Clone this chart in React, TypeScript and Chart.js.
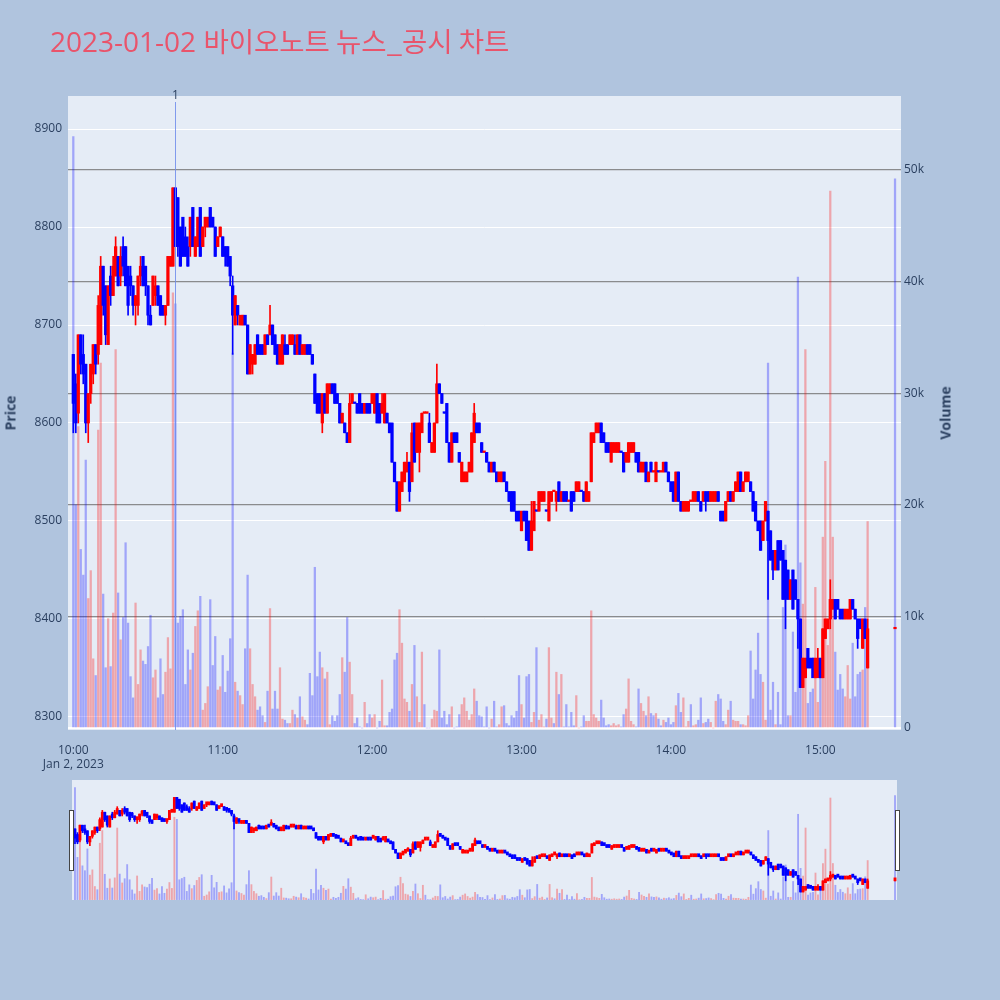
import React, { useEffect, useRef } from 'react';
import { Chart, registerables } from 'chart.js';

Chart.register(...registerables);

// ---------- text ----------
const titleDate = '2023-01-02';
const titleText = '바이오노트 뉴스_공시 차트';
const priceTitle = 'Price';
const volumeTitle = 'Volume';
const dateLabel = 'Jan 2, 2023';

// ---------- axes ----------
const startTime = '10:00';
const xTickTimes = ['10:00', '11:00', '12:00', '13:00', '14:00', '15:00'];
const priceTicks = [8300, 8400, 8500, 8600, 8700, 8800, 8900];
const volumeTicks = [0, 10, 20, 30, 40, 50];
const volumeTickLabels = ['0', '10k', '20k', '30k', '40k', '50k'];

// ---------- news markers ----------
const newsTimes = ['10:41'];
const newsLabels = ['1'];

// ---------- 1-minute candles from 10:00 (one value per minute) ----------
const open = [
  8670, 8640, 8610, 8690, 8670, 8660, 8600, 8630, 8650, 8680,
  8670, 8680, 8760, 8740, 8680, 8750, 8730, 8750, 8770, 8750,
  8780, 8780, 8760, 8750, 8740, 8720, 8720, 8750, 8770, 8760,
  8740, 8710, 8720, 8730, 8740, 8730, 8720, 8710, 8720, 8760,
  8760, 8840, 8830, 8800, 8810, 8790, 8780, 8780, 8820, 8770,
  8780, 8820, 8780, 8800, 8800, 8820, 8810, 8800, 8780, 8790,
  8790, 8780, 8780, 8770, 8740, 8700, 8720, 8700, 8700, 8710,
  8700, 8650, 8660, 8660, 8690, 8680, 8680, 8670, 8690, 8690,
  8700, 8690, 8680, 8660, 8660, 8680, 8680, 8680, 8680, 8680,
  8670, 8690, 8670, 8670, 8680, 8680, 8670, 8650, 8630, 8630,
  8600, 8630, 8610, 8630, 8640, 8640, 8630, 8620, 8600, 8600,
  8590, 8580, 8620, 8620, 8620, 8630, 8620, 8610, 8620, 8620,
  8620, 8610, 8630, 8620, 8610, 8600, 8610, 8600, 8600, 8560,
  8540, 8510, 8530, 8540, 8550, 8560, 8540, 8600, 8570, 8570,
  8590, 8610, 8610, 8600, 8570, 8570, 8600, 8640, 8630, 8610,
  8620, 8580, 8560, 8590, 8590, 8570, 8540, 8540, 8540, 8550,
  8550, 8580, 8600, 8600, 8580, 8570, 8570, 8560, 8550, 8560,
  8550, 8540, 8540, 8550, 8540, 8530, 8530, 8530, 8510, 8510,
  8490, 8510, 8510, 8500, 8470, 8490, 8510, 8510, 8520, 8520,
  8510, 8500, 8520, 8530, 8520, 8540, 8520, 8530, 8530, 8520,
  8530, 8530, 8530, 8530, 8530, 8530, 8520, 8520, 8540, 8580,
  8590, 8590, 8600, 8590, 8580, 8580, 8560, 8570, 8570, 8570,
  8570, 8570, 8560, 8560, 8570, 8570, 8570, 8570, 8550, 8550,
  8560, 8540, 8560, 8550, 8540, 8550, 8550, 8550, 8560, 8550,
  8540, 8540, 8520, 8550, 8520, 8510, 8510, 8510, 8520, 8520,
  8520, 8530, 8520, 8520, 8530, 8530, 8520, 8520, 8520, 8530,
  8510, 8510, 8500, 8520, 8530, 8520, 8530, 8530, 8550, 8530,
  8540, 8540, 8540, 8530, 8520, 8500, 8500, 8480, 8500, 8510,
  8490, 8470, 8450, 8480, 8480, 8470, 8460, 8450, 8420, 8450,
  8440, 8420, 8400, 8330, 8340, 8370, 8360, 8360, 8340, 8340,
  8360, 8340, 8380, 8390, 8400, 8410, 8420, 8420, 8410, 8410,
  8400, 8400, 8400, 8420, 8410, 8400, 8400, 8370, 8400, 8350,
];

const high = [
  8670, 8650, 8690, 8690, 8690, 8660, 8630, 8660, 8680, 8680,
  8730, 8770, 8760, 8740, 8740, 8760, 8770, 8790, 8770, 8780,
  8790, 8780, 8760, 8760, 8740, 8730, 8750, 8770, 8770, 8760,
  8740, 8720, 8750, 8750, 8740, 8730, 8720, 8720, 8770, 8770,
  8840, 8840, 8830, 8800, 8810, 8800, 8790, 8810, 8820, 8790,
  8810, 8820, 8800, 8810, 8810, 8820, 8810, 8800, 8790, 8800,
  8790, 8780, 8780, 8770, 8750, 8730, 8720, 8710, 8710, 8710,
  8700, 8680, 8670, 8680, 8690, 8680, 8680, 8690, 8690, 8720,
  8700, 8690, 8680, 8680, 8690, 8690, 8680, 8690, 8690, 8690,
  8690, 8690, 8680, 8680, 8680, 8680, 8670, 8650, 8630, 8630,
  8630, 8630, 8640, 8640, 8640, 8640, 8630, 8620, 8610, 8600,
  8590, 8630, 8630, 8620, 8620, 8630, 8620, 8620, 8620, 8620,
  8630, 8630, 8630, 8620, 8630, 8630, 8610, 8600, 8600, 8560,
  8540, 8540, 8550, 8560, 8570, 8560, 8600, 8600, 8600, 8600,
  8610, 8610, 8610, 8610, 8580, 8600, 8660, 8640, 8630, 8610,
  8620, 8580, 8590, 8590, 8590, 8570, 8560, 8550, 8550, 8560,
  8590, 8620, 8600, 8600, 8580, 8570, 8570, 8560, 8560, 8560,
  8550, 8550, 8550, 8550, 8540, 8530, 8530, 8530, 8510, 8510,
  8510, 8510, 8510, 8500, 8520, 8520, 8510, 8530, 8530, 8530,
  8510, 8530, 8530, 8530, 8530, 8540, 8530, 8530, 8530, 8520,
  8530, 8530, 8540, 8540, 8530, 8530, 8540, 8530, 8590, 8590,
  8600, 8600, 8600, 8590, 8580, 8580, 8580, 8580, 8580, 8580,
  8570, 8570, 8570, 8580, 8580, 8580, 8570, 8570, 8560, 8560,
  8560, 8550, 8560, 8550, 8560, 8550, 8550, 8560, 8560, 8550,
  8540, 8540, 8550, 8550, 8520, 8520, 8520, 8520, 8520, 8530,
  8530, 8530, 8520, 8530, 8530, 8530, 8530, 8530, 8530, 8530,
  8510, 8510, 8520, 8530, 8530, 8530, 8540, 8550, 8550, 8540,
  8550, 8550, 8540, 8530, 8520, 8500, 8500, 8500, 8520, 8510,
  8490, 8470, 8470, 8480, 8480, 8470, 8460, 8450, 8440, 8450,
  8440, 8420, 8400, 8360, 8360, 8370, 8360, 8360, 8360, 8370,
  8360, 8390, 8400, 8400, 8440, 8420, 8420, 8420, 8410, 8410,
  8410, 8410, 8420, 8420, 8410, 8400, 8400, 8400, 8400, 8400,
];

const low = [
  8590, 8590, 8600, 8650, 8640, 8590, 8580, 8620, 8640, 8650,
  8660, 8680, 8710, 8680, 8680, 8720, 8730, 8750, 8740, 8740,
  8750, 8740, 8710, 8730, 8710, 8700, 8710, 8740, 8740, 8730,
  8700, 8700, 8720, 8720, 8720, 8710, 8710, 8700, 8720, 8760,
  8760, 8780, 8770, 8760, 8770, 8770, 8760, 8770, 8780, 8770,
  8780, 8770, 8780, 8790, 8800, 8800, 8800, 8770, 8780, 8790,
  8770, 8760, 8760, 8740, 8670, 8700, 8700, 8700, 8700, 8700,
  8650, 8650, 8650, 8660, 8670, 8670, 8670, 8670, 8680, 8690,
  8680, 8670, 8660, 8660, 8660, 8670, 8670, 8680, 8680, 8670,
  8670, 8670, 8670, 8670, 8670, 8670, 8660, 8620, 8610, 8610,
  8590, 8610, 8610, 8630, 8630, 8620, 8620, 8600, 8600, 8590,
  8580, 8580, 8620, 8620, 8610, 8610, 8610, 8610, 8610, 8610,
  8620, 8610, 8600, 8600, 8610, 8600, 8600, 8590, 8560, 8540,
  8510, 8510, 8530, 8540, 8550, 8520, 8540, 8560, 8570, 8550,
  8590, 8610, 8610, 8580, 8570, 8570, 8600, 8630, 8620, 8610,
  8580, 8560, 8560, 8580, 8580, 8560, 8540, 8540, 8540, 8550,
  8550, 8580, 8590, 8590, 8570, 8570, 8560, 8550, 8550, 8550,
  8540, 8540, 8540, 8540, 8530, 8520, 8510, 8510, 8500, 8500,
  8490, 8500, 8480, 8470, 8470, 8490, 8510, 8510, 8520, 8520,
  8510, 8500, 8520, 8530, 8510, 8520, 8520, 8520, 8520, 8520,
  8510, 8520, 8530, 8530, 8530, 8520, 8520, 8520, 8540, 8580,
  8590, 8590, 8580, 8580, 8570, 8570, 8560, 8570, 8570, 8570,
  8570, 8550, 8560, 8560, 8570, 8570, 8560, 8550, 8550, 8550,
  8540, 8540, 8550, 8550, 8540, 8550, 8550, 8550, 8550, 8540,
  8530, 8520, 8520, 8520, 8510, 8510, 8510, 8510, 8520, 8520,
  8520, 8520, 8510, 8520, 8510, 8520, 8520, 8520, 8520, 8520,
  8500, 8500, 8500, 8520, 8520, 8520, 8530, 8530, 8530, 8530,
  8540, 8540, 8530, 8510, 8500, 8490, 8470, 8480, 8500, 8420,
  8460, 8440, 8450, 8450, 8460, 8420, 8390, 8420, 8420, 8410,
  8420, 8370, 8330, 8330, 8340, 8350, 8350, 8340, 8340, 8340,
  8340, 8340, 8380, 8390, 8390, 8410, 8400, 8410, 8400, 8400,
  8400, 8400, 8400, 8410, 8400, 8370, 8390, 8370, 8380, 8350,
];

const close = [
  8620, 8600, 8690, 8660, 8650, 8600, 8630, 8660, 8680, 8660,
  8720, 8760, 8720, 8690, 8740, 8730, 8760, 8780, 8740, 8770,
  8760, 8740, 8720, 8740, 8720, 8730, 8750, 8760, 8740, 8740,
  8710, 8700, 8750, 8740, 8720, 8710, 8710, 8720, 8770, 8770,
  8840, 8780, 8780, 8760, 8770, 8770, 8760, 8810, 8780, 8790,
  8810, 8770, 8800, 8810, 8810, 8800, 8800, 8770, 8790, 8800,
  8770, 8770, 8760, 8750, 8710, 8730, 8710, 8710, 8710, 8700,
  8650, 8680, 8670, 8680, 8670, 8670, 8670, 8690, 8680, 8700,
  8680, 8670, 8660, 8680, 8690, 8670, 8670, 8690, 8690, 8670,
  8690, 8670, 8680, 8680, 8670, 8670, 8660, 8620, 8610, 8610,
  8630, 8610, 8640, 8640, 8630, 8620, 8620, 8600, 8610, 8590,
  8580, 8620, 8630, 8620, 8610, 8610, 8610, 8620, 8610, 8610,
  8630, 8630, 8600, 8600, 8620, 8630, 8600, 8590, 8560, 8540,
  8510, 8540, 8550, 8560, 8560, 8530, 8590, 8560, 8600, 8600,
  8610, 8610, 8610, 8580, 8580, 8600, 8640, 8630, 8620, 8610,
  8580, 8560, 8590, 8580, 8580, 8560, 8560, 8550, 8550, 8560,
  8590, 8610, 8590, 8590, 8570, 8570, 8560, 8550, 8560, 8550,
  8540, 8550, 8550, 8540, 8530, 8520, 8510, 8510, 8500, 8500,
  8510, 8500, 8480, 8470, 8500, 8520, 8510, 8530, 8530, 8530,
  8510, 8530, 8530, 8530, 8530, 8520, 8530, 8520, 8520, 8520,
  8510, 8520, 8540, 8540, 8530, 8520, 8540, 8530, 8590, 8590,
  8600, 8600, 8580, 8580, 8570, 8570, 8580, 8580, 8580, 8580,
  8570, 8550, 8570, 8580, 8580, 8580, 8560, 8550, 8560, 8560,
  8540, 8550, 8550, 8550, 8560, 8550, 8550, 8560, 8550, 8540,
  8530, 8520, 8550, 8520, 8510, 8520, 8520, 8520, 8520, 8530,
  8530, 8520, 8510, 8530, 8520, 8520, 8530, 8530, 8530, 8520,
  8500, 8500, 8520, 8530, 8520, 8530, 8540, 8550, 8530, 8540,
  8550, 8550, 8530, 8510, 8500, 8490, 8470, 8500, 8520, 8480,
  8460, 8450, 8470, 8450, 8460, 8420, 8420, 8420, 8440, 8410,
  8420, 8400, 8330, 8360, 8360, 8350, 8350, 8340, 8360, 8360,
  8340, 8390, 8400, 8400, 8420, 8420, 8400, 8410, 8400, 8400,
  8410, 8410, 8420, 8410, 8400, 8380, 8390, 8400, 8380, 8390,
];

// volume per minute, in thousands of shares
const volumeK = [
  53, 20, 27, 16, 13.7, 24, 11.6, 14.1, 6.2, 4.7,
  26.7, 32.7, 12, 5.4, 9.8, 5.5, 10.3, 33.9, 12.1, 7.9,
  9.9, 16.6, 9.4, 4.6, 2.7, 11.2, 3.9, 7, 6, 5.7,
  7.3, 10.1, 4.5, 5.2, 2.7, 6.2, 3, 5, 8.1, 5.3,
  39, 38, 9.4, 10, 10.6, 3.9, 7, 5.2, 6.7, 9.1,
  10.5, 11.8, 1.6, 2.2, 3.7, 11.5, 5.6, 8.2, 3.4, 3.7,
  6.5, 3.2, 5.1, 8, 33.6, 4.1, 3.3, 2.9, 2.1, 7.1,
  13.7, 7.1, 3.9, 2.8, 1.6, 1.9, 1.1, 0.5, 3.3, 10.7,
  1.7, 3.3, 1.7, 5.4, 0.8, 0.7, 0.4, 0.4, 1.6, 1.2,
  0.9, 2.8, 1, 0.7, 0.3, 4.9, 2.9, 14.4, 4.6, 6.8,
  5.4, 4.4, 5, 0.3, 1.1, 0.6, 1.1, 3, 6.3, 5,
  9.9, 5.9, 3, 0.4, 0.9, 0.1, 0, 2.3, 0.4, 1.2,
  0.9, 1.2, 0, 0.6, 4.3, 0.2, 0.2, 1.4, 1.7, 6.1,
  6.7, 10.6, 7.6, 2.6, 2.3, 1.5, 3.9, 7.4, 2.8, 0.5,
  6.8, 2.1, 0, 0, 0.8, 1.6, 1.5, 7, 0.9, 1.5,
  0.3, 1.2, 1.9, 0, 0.1, 1.2, 2.1, 2.7, 1.5, 0.7,
  1.2, 3.5, 2.4, 1.1, 1, 0.1, 1.9, 0, 0.8, 2.4,
  0.1, 0.3, 1.9, 2, 0.4, 0.2, 1.1, 0.9, 1.5, 4.7,
  2.1, 0.9, 4.6, 4.8, 0.5, 1.4, 7.2, 0.7, 1.2, 0.1,
  0.8, 7.2, 0.9, 0.4, 5, 3, 4.8, 0.1, 2.1, 0.1,
  1.4, 0.2, 2.9, 0, 0.1, 1.1, 0.6, 0.6, 10.5, 1.2,
  0.9, 0.6, 2.5, 0.9, 0.2, 0.3, 0.2, 0.4, 0.2, 0.3,
  0.1, 1.2, 1.7, 4.4, 0.6, 0.3, 0.1, 3.5, 2.2, 1.5,
  1.1, 2.8, 1.3, 1.1, 1.3, 0.8, 0.2, 0.7, 0.5, 0.9,
  0.3, 0.5, 2, 3.1, 1.4, 2.7, 0.1, 0.6, 2.1, 0.2,
  0.3, 0.7, 2.7, 0.4, 0.5, 0.8, 0.5, 0, 2.4, 3,
  2.6, 0.6, 0.3, 1.6, 2.4, 0.7, 0.6, 0.6, 0.3, 0.3,
  0.2, 1.1, 6.9, 2.6, 5.2, 8.5, 4.8, 4.1, 0.7, 32.7,
  1.6, 4.1, 0.3, 3.2, 0.3, 10.8, 16.4, 1.1, 1.1, 8.6,
  3.2, 40.4, 14.8, 11.1, 33.9, 2.2, 3.2, 3.5, 12.6, 2.3,
  5.6, 17.1, 23.9, 7.4, 48.1, 17.1, 6.8, 3.4, 4.8, 3.5,
  2.8, 5.6, 2.6, 7.6, 2.8, 4.8, 5, 5.2, 10.8, 18.5,
];

// closing single-price auction
const auctionTime = '15:30';
const auctionPrice = 8390;
const auctionVolumeK = 49.2;

// ---------- styling ----------
const UP = '#ff0000';
const DOWN = '#0000ff';
const UP_VOL = 'rgba(255,0,0,0.3)';
const DOWN_VOL = 'rgba(0,0,255,0.3)';
const PLOT_BG = '#e5ecf6';
const PAGE_BG = '#b0c4de';
const TEXT = '#2a3f5f';
const FONT = "'Open Sans', 'Noto Sans', sans-serif";

const toMin = (t: string) => {
  const [h, m] = t.split(':').map(Number);
  const [h0, m0] = startTime.split(':').map(Number);
  return (h - h0) * 60 + (m - m0);
};

type Pt = { x: number; o: number; h: number; l: number; c: number; v: number; inc: boolean; volUp: boolean };

function buildSeries(): Pt[] {
  const pts: Pt[] = [];
  let prev = open[0];
  const push = (x: number, o: number, h: number, l: number, c: number, v: number) => {
    const inc = c > o || (c === o && c >= prev);
    pts.push({ x, o, h, l, c, v, inc, volUp: c > o });
    prev = c;
  };
  for (let i = 0; i < open.length; i++) push(i, open[i], high[i], low[i], close[i], volumeK[i]);
  push(toMin(auctionTime), auctionPrice, auctionPrice, auctionPrice, auctionPrice, auctionVolumeK);
  return pts;
}

function makeDatasets(s: Pt[], body: number, wick: number, vol: number, minBody: number) {
  return [
    {
      type: 'bar', label: 'body', yAxisID: 'y', order: 1, grouped: false,
      data: s.map((p) => ({ x: p.x, y: [p.o, p.c] })),
      backgroundColor: s.map((p) => (p.inc ? UP : DOWN)),
      barThickness: body, minBarLength: minBody, borderWidth: 0,
    },
    {
      type: 'bar', label: 'wick', yAxisID: 'y', order: 2, grouped: false,
      data: s.map((p) => ({ x: p.x, y: [p.l, p.h] })),
      backgroundColor: s.map((p) => (p.inc ? UP : DOWN)),
      barThickness: wick, borderWidth: 0,
    },
    {
      type: 'bar', label: 'volume', yAxisID: 'yv', order: 3, grouped: false,
      data: s.map((p) => ({ x: p.x, y: p.v })),
      backgroundColor: s.map((p) => (p.volUp ? UP_VOL : DOWN_VOL)),
      barThickness: vol, borderWidth: 0,
    },
  ];
}

const bgPlugin = {
  id: 'plotBg',
  beforeDraw(chart: any) {
    const { ctx, chartArea: a } = chart;
    ctx.save();
    ctx.fillStyle = PLOT_BG;
    ctx.fillRect(a.left, a.top, a.right - a.left, a.bottom - a.top);
    ctx.restore();
  },
};

const newsPlugin = {
  id: 'news',
  afterDatasetsDraw(chart: any) {
    const { ctx, chartArea: a, scales } = chart;
    ctx.save();
    newsTimes.forEach((t, i) => {
      const x = Math.round(scales.x.getPixelForValue(toMin(t))) + 0.5;
      ctx.strokeStyle = 'rgba(110,140,235,0.85)';
      ctx.lineWidth = 1;
      ctx.beginPath();
      ctx.moveTo(x, a.top + 6);
      ctx.lineTo(x, a.bottom);
      ctx.stroke();
      ctx.fillStyle = TEXT;
      ctx.font = `12px ${FONT}`;
      ctx.textAlign = 'center';
      ctx.textBaseline = 'middle';
      ctx.fillText(newsLabels[i], x, a.top);
    });
    ctx.restore();
  },
};

const tickFont = { family: FONT, size: 12 };

export default function App() {
  const mainRef = useRef<HTMLCanvasElement>(null);
  const sliderRef = useRef<HTMLCanvasElement>(null);

  useEffect(() => {
    const series = buildSeries();

    const main = new Chart(mainRef.current as HTMLCanvasElement, {
      type: 'bar',
      data: { datasets: makeDatasets(series, 2.6, 1, 1.6, 1.5) as any },
      options: {
        animation: false,
        responsive: false,
        maintainAspectRatio: false,
        layout: { padding: { top: 96, left: 0, right: 0, bottom: 0 } },
        plugins: { legend: { display: false }, tooltip: { enabled: false }, title: { display: false } },
        scales: {
          x: {
            type: 'linear', min: -2.13, max: 332.4, offset: false,
            grid: { display: false }, border: { display: false },
            afterBuildTicks: (s: any) => { s.ticks = xTickTimes.map((t) => ({ value: toMin(t) })); },
            afterFit: (s: any) => { s.height = 270; },
            ticks: {
              autoSkip: false, maxRotation: 0, padding: 5, color: TEXT, font: tickFont,
              callback: (_v: any, i: number) => (i === 0 ? [xTickTimes[0], dateLabel] : xTickTimes[i]),
            },
          },
          y: {
            type: 'linear', position: 'left', min: 8286.7, max: 8933.7, beginAtZero: false,
            border: { display: false },
            grid: { color: '#ffffff', lineWidth: 1, drawTicks: false },
            afterBuildTicks: (s: any) => { s.ticks = priceTicks.map((v) => ({ value: v })); },
            afterFit: (s: any) => { s.width = 68; },
            ticks: { padding: 6, color: TEXT, font: tickFont, callback: (v: any) => String(v) },
          },
          yv: {
            type: 'linear', position: 'right', min: -0.18, max: 56.63, beginAtZero: false,
            border: { display: false },
            grid: {
              drawTicks: false,
              color: (ctx: any) => (ctx.tick && ctx.tick.value === 0 ? '#ffffff' : 'rgba(115,115,115,0.8)'),
              lineWidth: (ctx: any) => (ctx.tick && ctx.tick.value === 0 ? 2 : 1.3),
            },
            afterBuildTicks: (s: any) => { s.ticks = volumeTicks.map((v) => ({ value: v })); },
            afterFit: (s: any) => { s.width = 99; },
            ticks: { padding: 3, color: TEXT, font: tickFont, callback: (_v: any, i: number) => volumeTickLabels[i] },
          },
        },
      } as any,
      plugins: [bgPlugin, newsPlugin],
    });

    const slider = new Chart(sliderRef.current as HTMLCanvasElement, {
      type: 'bar',
      data: { datasets: makeDatasets(series, 2.2, 1, 1.2, 3) as any },
      options: {
        animation: false,
        responsive: false,
        maintainAspectRatio: false,
        layout: { padding: 0 },
        plugins: { legend: { display: false }, tooltip: { enabled: false } },
        scales: {
          x: { type: 'linear', min: -1.2, max: 330.8, offset: false, display: false },
          y: { type: 'linear', min: 8286.7, max: 8933.7, display: false },
          yv: { type: 'linear', position: 'right', min: -0.18, max: 56.63, display: false },
        },
      } as any,
      plugins: [bgPlugin],
    });

    return () => {
      main.destroy();
      slider.destroy();
    };
  }, []);

  const axisTitle: React.CSSProperties = {
    position: 'absolute', transform: 'translate(-50%, -50%) rotate(-90deg)',
    font: `bold 14px ${FONT}`, color: TEXT, whiteSpace: 'nowrap',
  };
  const handle: React.CSSProperties = {
    position: 'absolute', top: 810, width: 3, height: 59, background: '#ffffff',
    border: '1px solid #444444',
  };

  return (
    <div style={{ position: 'fixed', left: 0, top: 0, width: 1000, height: 1000, background: PAGE_BG, overflow: 'hidden' }}>
      <canvas ref={mainRef} width={1000} height={1000} style={{ position: 'absolute', left: 0, top: 0 }} />
      <canvas ref={sliderRef} width={825} height={120} style={{ position: 'absolute', left: 72, top: 780 }} />
      <div style={{ ...handle, left: 69 }} />
      <div style={{ ...handle, left: 895 }} />
      <div
        style={{
          position: 'absolute', left: 50, top: 26, whiteSpace: 'nowrap', color: '#e9546b',
          fontFamily: "'Open Sans', 'Noto Sans CJK KR', sans-serif", fontSize: 28, lineHeight: '28px',
        }}
      >
        {titleDate}{' '}
        <span style={{ fontFamily: "'Noto Sans CJK KR', sans-serif", fontSize: 27.5 }}>{titleText}</span>
      </div>
      <div style={{ ...axisTitle, left: 10, top: 413 }}>{priceTitle}</div>
      <div style={{ ...axisTitle, left: 945, top: 413 }}>{volumeTitle}</div>
    </div>
  );
}
